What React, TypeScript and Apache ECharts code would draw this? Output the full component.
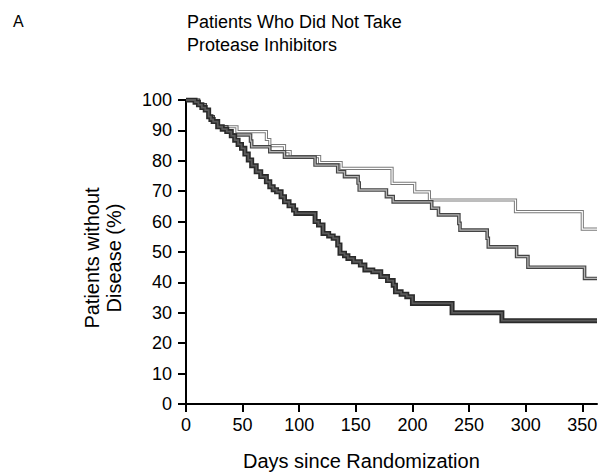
import React, { useEffect, useRef } from "react";
import * as echarts from "echarts";

const xTicks = [0, 50, 100, 150, 200, 250, 300, 350];
const yTicks = [0, 10, 20, 30, 40, 50, 60, 70, 80, 90, 100];

// Thin grey curve (top)
const topDays = [0, 11, 17, 20, 24, 28, 45, 71, 74, 87, 92, 118, 137, 182, 202, 215, 291, 350, 363];
const topVals = [100, 98.4, 96.7, 94.5, 92.9, 91.2, 89.6, 87, 85, 83, 81.4, 79.4, 77.5, 72.6, 69.8, 67.1, 63.3, 57.5, 57.5];

// Middle curve
const midDays = [0, 11, 17, 20, 24, 28, 36, 40, 57, 58, 74, 87, 114, 134, 140, 152, 153, 177, 183, 217, 223, 241, 242, 266, 267, 292, 302, 352, 363];
const midVals = [100, 98.4, 96.7, 94.5, 92.9, 91.2, 89.6, 88.5, 86.5, 84.6, 83, 81.2, 78.6, 76.4, 74.8, 72.7, 70.4, 68.2, 66.5, 64.4, 62.2, 59.4, 57.2, 54.5, 51.7, 48.5, 45, 41.3, 41.3];

// Thick dark curve (bottom)
const lowDays = [0, 8, 11, 14, 17, 20, 22, 24, 28, 32, 36, 40, 43, 46, 49, 52, 55, 58, 62, 66, 71, 74, 77, 80, 84, 87, 91, 95, 97, 114, 117, 121, 126, 130, 134, 136, 140, 143, 148, 154, 158, 165, 172, 178, 183, 185, 190, 195, 200, 235, 279, 363];
const lowVals = [100, 99.3, 98.4, 97.5, 96.7, 94.5, 93.6, 92.9, 91.2, 90.4, 89.6, 88.2, 86.8, 85.4, 84.1, 82.2, 80.3, 78.4, 76.4, 74.8, 73.1, 71.5, 70.5, 69.8, 68.2, 66.5, 65.2, 63.8, 62.7, 60, 58.9, 56.1, 55.3, 54.5, 52.3, 49.6, 48.8, 47.9, 46.8, 45.7, 44.1, 43.5, 41.9, 40.6, 39.1, 36.9, 36.1, 35.3, 33.1, 30, 27.4, 27.4];

const FONT = "Liberation Sans, Arial, Helvetica, sans-serif";

function pairs(d: number[], v: number[]) {
  return d.map((x, i) => [x, v[i]]);
}

function stepSeries(data: number[][], color: string, width: number, z: number) {
  return {
    type: "line",
    step: "end",
    data,
    symbol: "none",
    showSymbol: false,
    silent: true,
    z,
    lineStyle: { color, width, join: "miter", cap: "butt" },
  };
}

export default function App() {
  const ref = useRef<HTMLDivElement>(null);
  useEffect(() => {
    if (!ref.current) return;
    const chart = echarts.init(ref.current, null, { renderer: "svg" });
    const top = pairs(topDays, topVals);
    const mid = pairs(midDays, midVals);
    const low = pairs(lowDays, lowVals);
    chart.setOption({
      animation: false,
      backgroundColor: "#ffffff",
      grid: { left: 186, right: 5, top: 100, bottom: 71 },
      xAxis: {
        type: "value",
        min: 0,
        max: 363,
        interval: 50,
        splitLine: { show: false },
        axisLine: { lineStyle: { color: "#000", width: 2 } },
        axisTick: { length: 8, lineStyle: { color: "#000", width: 2 }, customValues: xTicks },
        axisLabel: { color: "#000", fontSize: 18, fontFamily: FONT, margin: 12, customValues: xTicks },
      },
      yAxis: {
        type: "value",
        min: 0,
        max: 100,
        interval: 10,
        splitLine: { show: false },
        axisLine: { show: true, lineStyle: { color: "#000", width: 2 } },
        axisTick: { show: true, length: 8, lineStyle: { color: "#000", width: 2 }, customValues: yTicks },
        axisLabel: { color: "#000", fontSize: 18, fontFamily: FONT, margin: 14, customValues: yTicks },
      },
      graphic: [
        { type: "text", left: 13, top: 13, style: { text: "A", fontSize: 16, fontFamily: FONT, fill: "#000" } },
        {
          type: "text",
          left: 187,
          top: 10,
          style: {
            text: "Patients Who Did Not Take\nProtease Inhibitors",
            fontSize: 18,
            lineHeight: 23,
            fontFamily: FONT,
            fill: "#000",
          },
        },
        {
          type: "text",
          x: 103,
          y: 258,
          rotation: Math.PI / 2,
          style: {
            text: "Patients without\nDisease (%)",
            fontSize: 20,
            lineHeight: 22,
            fontFamily: FONT,
            fill: "#000",
            align: "center",
            verticalAlign: "middle",
          },
        },
        {
          type: "text",
          left: 243,
          top: 451,
          style: { text: "Days since Randomization", fontSize: 20, fontFamily: FONT, fill: "#000" },
        },
      ],
      series: [
        stepSeries(top, "#7a7a7a", 3.2, 2),
        stepSeries(top, "#ffffff", 1.2, 3),
        stepSeries(mid, "#444444", 3.6, 4),
        stepSeries(mid, "#b5b5b5", 1.3, 5),
        stepSeries(low, "#2a2a2a", 5, 6),
        stepSeries(low, "#5a5a5a", 1.8, 7),
      ],
    });
    return () => chart.dispose();
  }, []);
  return (
    <div
      ref={ref}
      style={{ position: "fixed", left: 0, top: 0, width: 602, height: 475, overflow: "hidden" }}
    />
  );
}
